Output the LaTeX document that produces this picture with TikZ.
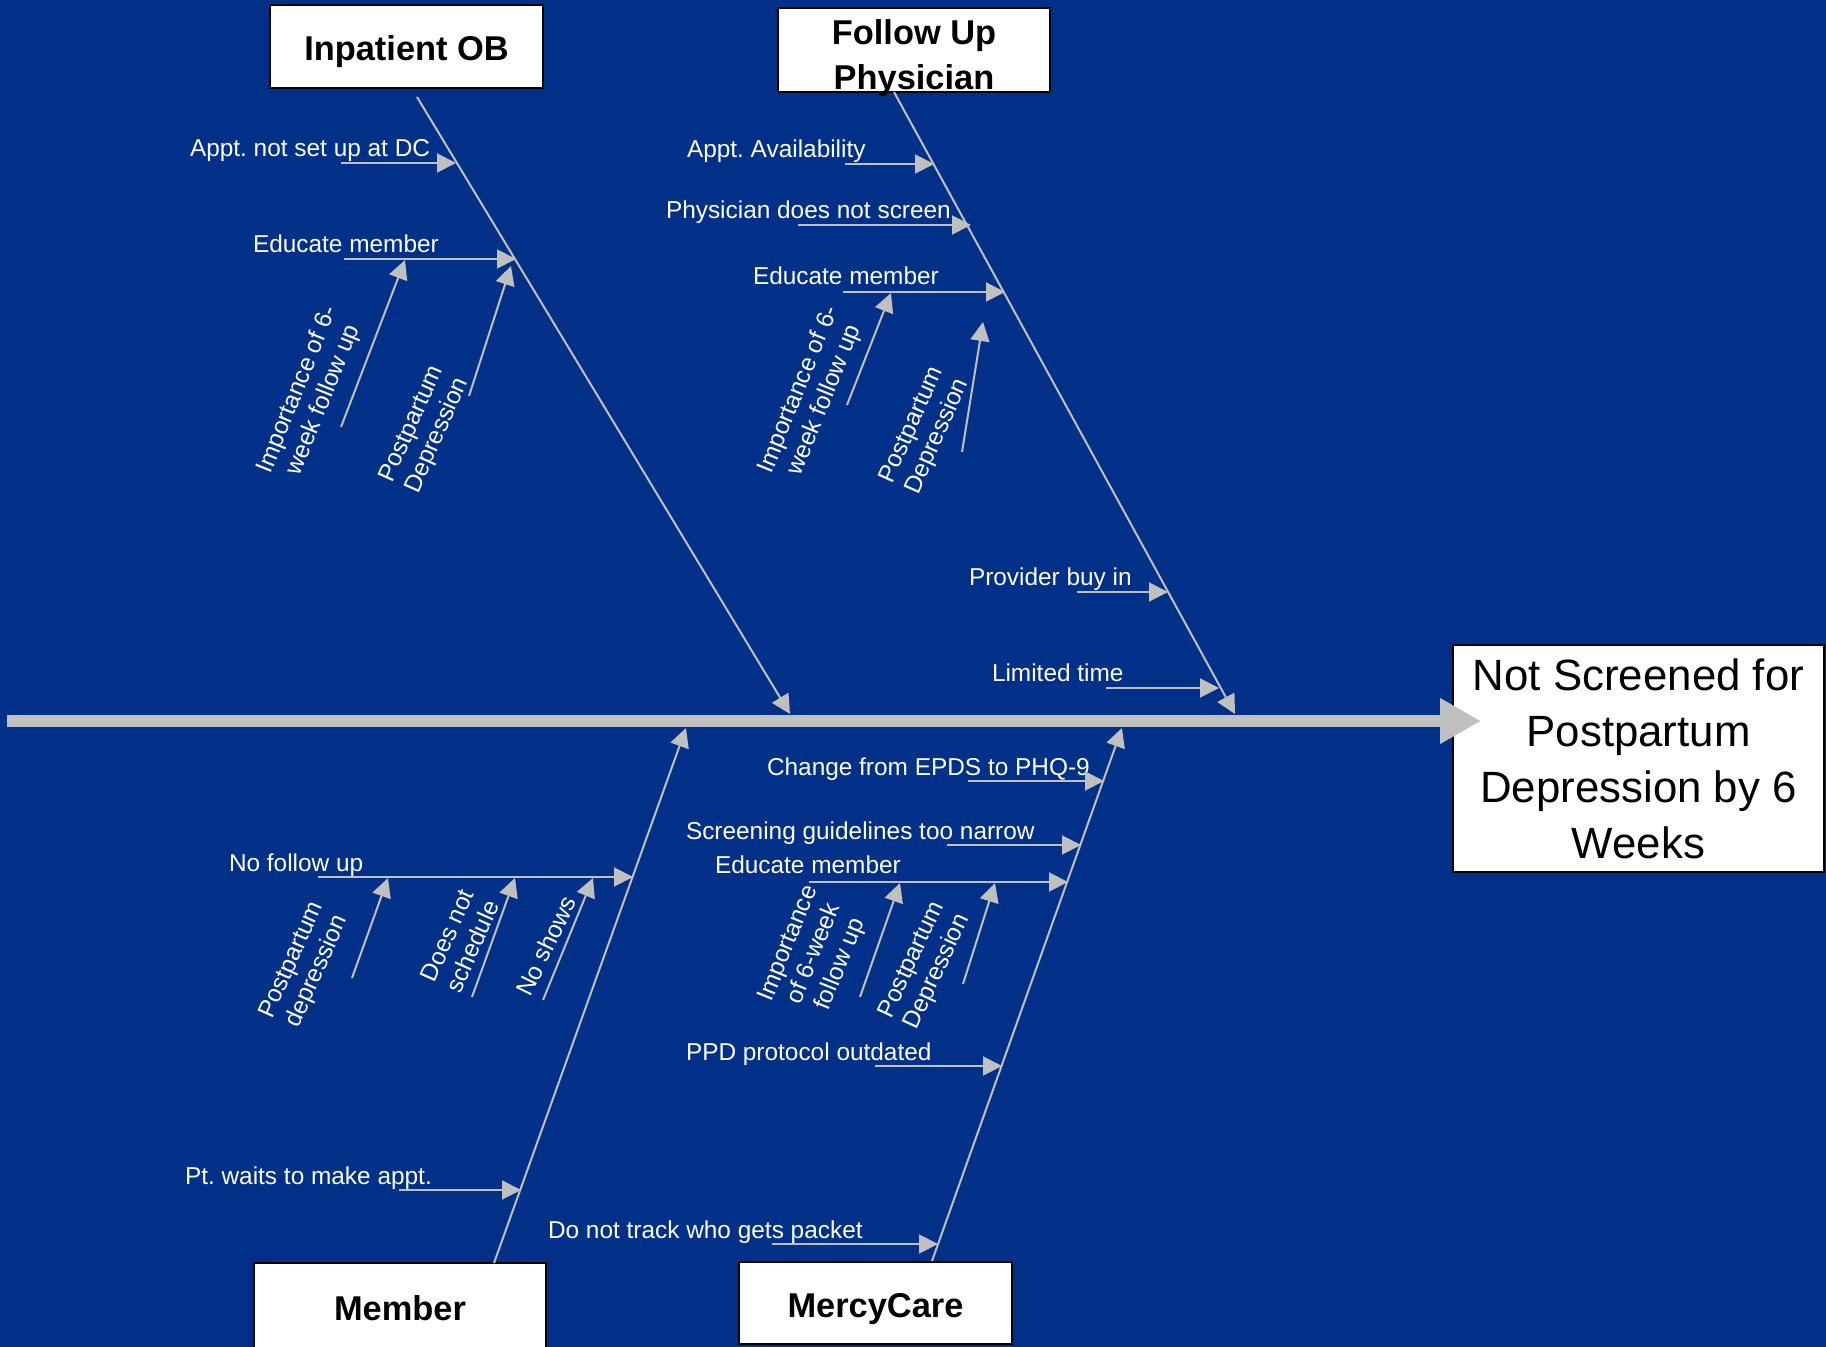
\documentclass[tikz,border=0pt]{standalone}
\usepackage{fontspec}
\setmainfont{Liberation Sans}
\usetikzlibrary{arrows.meta}
\definecolor{fishbg}{RGB}{0,48,135}
\definecolor{bonegray}{RGB}{192,192,192}
\frenchspacing

\begin{document}
\begin{tikzpicture}[x=0.5pt,y=-0.5pt,->,>={Triangle[length=9.5pt,width=9.5pt]},
  line width=1pt,color=bonegray,
  catbox/.style={draw=black,fill=white,text=black,line width=1pt,inner sep=0pt,
    align=center,text height=17.6pt,text depth=3.6pt,
    font=\fontsize{17.2}{22.5}\selectfont\bfseries},
  effbox/.style={draw=black,fill=white,text=black,line width=1pt,inner sep=0pt,
    align=center,minimum width=185.5pt,minimum height=113.5pt,
    font=\fontsize{21.9}{28}\selectfont},
  lbl/.style={text=white,inner sep=0pt,anchor=base west,
    font=\fontsize{12.2}{14}\selectfont},
  rlbl/.style={text=white,inner sep=0pt,align=center,
    font=\fontsize{12.2}{14}\selectfont}]
\useasboundingbox (0,0) rectangle (1826,1347);
\fill[fishbg,-] (0,0) rectangle (1826,1347);

% head and category boxes
\node[effbox] (eff) at (1638.5,758.5) {Not Screened for\\Postpartum\\Depression by 6\\Weeks};
\node[catbox,minimum width=136.5pt,minimum height=41.5pt] (iob) at (406.5,46.5) {Inpatient OB};
\node[catbox,minimum width=136pt,minimum height=42pt,text height=39.6pt,text depth=0pt] (fup) at (914,50) {Follow Up\\Physician};
\node[catbox,minimum width=146pt,minimum height=43pt] (mem) at (400,1306) {Member};
\node[catbox,minimum width=136.5pt,minimum height=41pt] (mc) at (875.5,1303) {MercyCare};

% spine
\coordinate (sp0) at (7,721);
\coordinate (sp1) at (1481,721);
\draw[line width=6pt,-{Triangle[length=20.5pt,width=21.5pt]}] (sp0) -- (sp1);

% bones
\coordinate (iobS) at (417,97);   \coordinate (iobE) at (790,714);
\coordinate (fupS) at (894,92);   \coordinate (fupE) at (1235,714);
\coordinate (memS) at (494,1263); \coordinate (memE) at (686,728);
\coordinate (mcS) at (932,1261);  \coordinate (mcE) at (1122,728);
\draw (iobS) -- (iobE);
\draw (fupS) -- (fupE);
\draw (memS) -- (memE);
\draw (mcS) -- (mcE);

% Inpatient OB
\coordinate (iobA) at (341,163);  \coordinate (iobAt) at (456,163);
\coordinate (iobB) at (344,259);  \coordinate (iobBt) at (516,259);
\coordinate (iobB1) at (341,427); \coordinate (iobB1t) at (405,260);
\coordinate (iobB2) at (469,396); \coordinate (iobB2t) at (511,266);
\node[lbl] (iobAl) at (189,157) {Appt. not set up at DC};
\node[lbl] (iobBl) at (252,253) {Educate member};
\node[rlbl,rotate=68] (iobB1l) at (311,395) {Importance of 6-\\week follow up};
\node[rlbl,rotate=66] (iobB2l) at (425,430) {Postpartum\\Depression};
\path (iobA) edge (iobAt)
      (iobB) edge (iobBt)
      (iobB1) edge (iobB1t)
      (iobB2) edge (iobB2t);

% Follow Up Physician
\coordinate (fupA) at (845,164);  \coordinate (fupAt) at (934,164);
\coordinate (fupB) at (798,225);  \coordinate (fupBt) at (971,225);
\coordinate (fupC) at (843,292);  \coordinate (fupCt) at (1005,292);
\coordinate (fupC1) at (847,405); \coordinate (fupC1t) at (891,293);
\coordinate (fupC2) at (962,452); \coordinate (fupC2t) at (983,322);
\coordinate (fupD) at (1077,592); \coordinate (fupDt) at (1168,592);
\coordinate (fupE2) at (1106,688); \coordinate (fupE2t) at (1219,688);
\node[lbl] (fupAl) at (686,158) {Appt. Availability};
\node[lbl] (fupBl) at (665,219) {Physician does not screen};
\node[lbl] (fupCl) at (752,285) {Educate member};
\node[rlbl,rotate=68] (fupC1l) at (812,395) {Importance of 6-\\week follow up};
\node[rlbl,rotate=66] (fupC2l) at (925,431) {Postpartum\\Depression};
\node[lbl] (fupDl) at (968,586) {Provider buy in};
\node[lbl] (fupE2l) at (991,682) {Limited time};
\path (fupA) edge (fupAt)
      (fupB) edge (fupBt)
      (fupC) edge (fupCt)
      (fupC1) edge (fupC1t)
      (fupC2) edge (fupC2t)
      (fupD) edge (fupDt)
      (fupE2) edge (fupE2t);

% Member
\coordinate (memA) at (318,877);  \coordinate (memAt) at (633,877);
\coordinate (memA1) at (352,978); \coordinate (memA1t) at (388,878);
\coordinate (memA2) at (472,997); \coordinate (memA2t) at (515,878);
\coordinate (memA3) at (543,1000); \coordinate (memA3t) at (593,878);
\coordinate (memB) at (399,1190); \coordinate (memBt) at (521,1190);
\node[lbl] (memAl) at (228,871) {No follow up};
\node[rlbl,rotate=66] (memA1l) at (305,966) {Postpartum\\depression};
\node[rlbl,rotate=66] (memA2l) at (460,941) {Does not\\schedule};
\node[rlbl,rotate=64] (memA3l) at (546,946) {No shows};
\node[lbl] (memBl) at (184,1184) {Pt. waits to make appt.};
\path (memA) edge (memAt)
      (memA1) edge (memA1t)
      (memA2) edge (memA2t)
      (memA3) edge (memA3t)
      (memB) edge (memBt);

% MercyCare
\coordinate (mcA) at (968,781);   \coordinate (mcAt) at (1104,781);
\coordinate (mcB) at (947,845);   \coordinate (mcBt) at (1081,845);
\coordinate (mcC) at (809,882);   \coordinate (mcCt) at (1068,882);
\coordinate (mcC1) at (860,997);  \coordinate (mcC1t) at (900,883);
\coordinate (mcC2) at (963,984);  \coordinate (mcC2t) at (995,883);
\coordinate (mcD) at (875,1066);  \coordinate (mcDt) at (1002,1066);
\coordinate (mcE2) at (772,1244); \coordinate (mcE2t) at (938,1244);
\node[lbl] (mcAl) at (766,775) {Change from EPDS to PHQ-9};
\node[lbl] (mcBl) at (685,839) {Screening guidelines too narrow};
\node[lbl] (mcCl) at (714,873) {Educate member};
\node[rlbl,rotate=68] (mcC1l) at (815,954) {Importance\\of 6-week\\follow up};
\node[rlbl,rotate=65] (mcC2l) at (925,966) {Postpartum\\Depression};
\node[lbl] (mcDl) at (685,1060) {PPD protocol outdated};
\node[lbl] (mcE2l) at (547,1238) {Do not track who gets packet};
\path (mcA) edge (mcAt)
      (mcB) edge (mcBt)
      (mcC) edge (mcCt)
      (mcC1) edge (mcC1t)
      (mcC2) edge (mcC2t)
      (mcD) edge (mcDt)
      (mcE2) edge (mcE2t);
\end{tikzpicture}
\end{document}
